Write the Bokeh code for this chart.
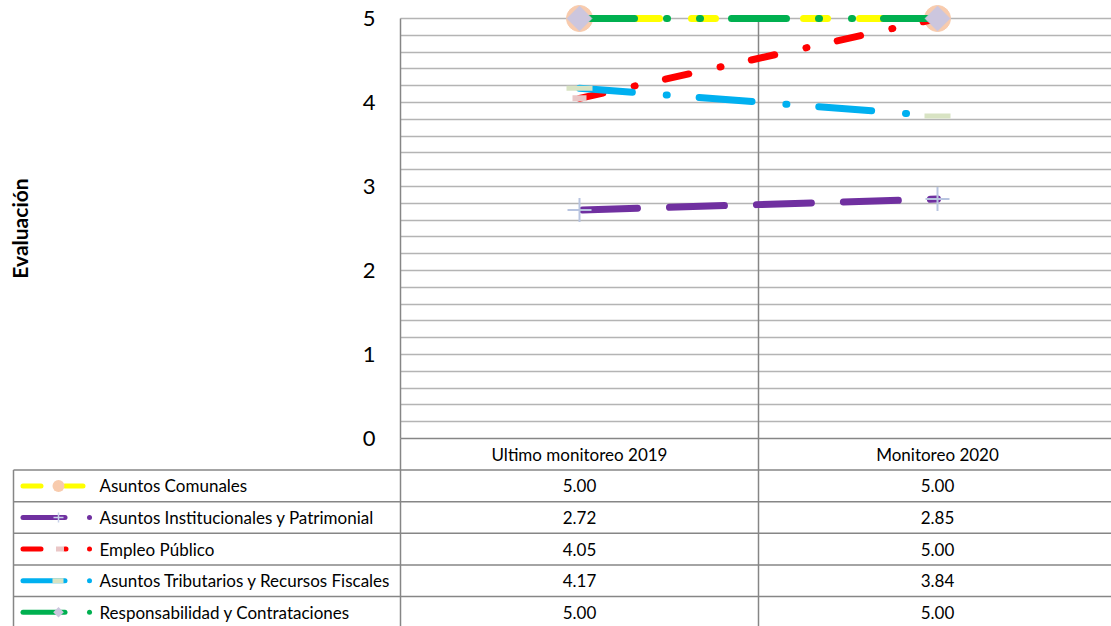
import numpy as np
from bokeh.plotting import figure
from bokeh.models import Range1d, FixedTicker, Grid
from bokeh.embed import file_html
from bokeh.resources import INLINE
from bokeh.core.properties import value

# ---------------- data ----------------
categories = ["Ultimo monitoreo 2019", "Monitoreo 2020"]
series_names = [
    "Asuntos Comunales",
    "Asuntos Institucionales y Patrimonial",
    "Empleo Público",
    "Asuntos Tributarios y Recursos Fiscales",
    "Responsabilidad y Contrataciones",
]
asuntos_comunales = [5.00, 5.00]
asuntos_institucionales = [2.72, 2.85]
empleo_publico = [4.05, 5.00]
asuntos_tributarios = [4.17, 3.84]
responsabilidad = [5.00, 5.00]
y_ticks = [0, 1, 2, 3, 4, 5]
y_title = "Evaluación"

series_values = [asuntos_comunales, asuntos_institucionales, empleo_publico,
                 asuntos_tributarios, responsabilidad]

# ---------------- styles / layout ----------------
line_colors = ["#FFFF00", "#7030A0", "#FF0000", "#00B0F0", "#00B050"]
line_dashes = ["24 32", "55 32", "24 32 1 31", "53 34 1 32", "55 32 1 32 1 31"]
dash_offsets = [0, -3, 0, 0, 0]
FONT = "Lato"
AXIS_COL = "#868686"
GRID_COL = "#B4B4B4"
TXT_SIZE = "17px"

W, H = 1111, 626
cat_px = 358.0      # width of one category column, px
plot_x0 = 400.0     # page x where the plot area starts
plot_y0 = 438.0     # page y of value 0 (top of the data table)
unit_px = 84.0      # px per unit of evaluation
row_px = 31.6       # data-table row height
n_cat = len(categories)
x_cat = [i + 0.5 for i in range(n_cat)]

p = figure(width=W, height=H,
           x_range=Range1d(-plot_x0 / cat_px, (W - plot_x0) / cat_px),
           y_range=Range1d(-(H - plot_y0) / unit_px, plot_y0 / unit_px),
           output_backend="svg", toolbar_location=None, x_axis_location=None,
           min_border_left=0, min_border_right=0, min_border_top=0, min_border_bottom=0)
p.extra_y_ranges = {"table": Range1d(start=(H - plot_y0) / row_px, end=-plot_y0 / row_px)}
p.outline_line_color = None
p.background_fill_color = "white"
p.border_fill_color = "white"
p.xgrid.visible = False

# ---------------- value axis ----------------
yax = p.yaxis[0]
yax.fixed_location = 0
yax.ticker = FixedTicker(ticks=y_ticks)
yax.bounds = (min(y_ticks), max(y_ticks))
yax.axis_line_color = AXIS_COL
yax.axis_line_width = 1.5
yax.major_tick_line_color = None
yax.minor_tick_line_color = None
yax.major_tick_out = 0
yax.major_tick_in = 0
yax.major_label_standoff = 25
yax.major_label_text_font = FONT
yax.major_label_text_font_size = "22px"
yax.major_label_text_color = "#000000"
yax.axis_label = y_title
yax.axis_label_text_font = FONT
yax.axis_label_text_font_style = "bold"
yax.axis_label_text_font_size = "21px"
yax.axis_label_text_color = "#000000"
yax.axis_label_standoff = 328

grid_ticks = [round(0.2 * k, 1) for k in range(1, 26)]
if "cross_bounds" in Grid.properties():
    p.ygrid.ticker = FixedTicker(ticks=grid_ticks)
    p.ygrid.cross_bounds = (0, n_cat)
    p.ygrid.grid_line_color = GRID_COL
    p.ygrid.grid_line_width = 1.3
else:
    p.ygrid.visible = False
    p.segment(x0=[0] * len(grid_ticks), y0=grid_ticks, x1=[n_cat] * len(grid_ticks),
              y1=grid_ticks, line_color=GRID_COL, line_width=1.3)

# category divider(s)
div_x = list(range(1, n_cat))
p.segment(x0=div_x, y0=[min(y_ticks)] * len(div_x), x1=div_x, y1=[max(y_ticks)] * len(div_x),
          line_color=AXIS_COL, line_width=1.5)

# ---------------- series ----------------
for i, vals in enumerate(series_values):
    p.line(x_cat, vals, line_color=line_colors[i], line_width=7,
           line_dash=line_dashes[i], line_dash_offset=dash_offsets[i], line_cap="round")
    if i == 0:
        p.scatter(x_cat, vals, marker="circle", size=26, fill_color="#F8CBAD",
                  line_color="#F8CBAD")
    elif i == 1:
        p.scatter(x_cat, vals, marker="cross", size=24, line_color="#B8C4E0",
                  line_width=2)
    elif i == 2:
        p.rect(x_cat, vals, width=14, height=6, width_units="screen",
               height_units="screen", fill_color="#EAC6C6", line_color=None)
    elif i == 3:
        p.rect(x_cat, vals, width=26, height=5, width_units="screen",
               height_units="screen", fill_color="#D8E3C3", line_color=None)
    else:
        p.scatter(x_cat, vals, marker="square", size=17.5, angle=np.pi / 4,
                  fill_color="#CCC6DE", line_color="#CCC6DE")

# ---------------- data table ----------------
TB = "table"


def px(v):
    # page x inside the legend column -> data x
    return (v - plot_x0) / cat_px


n_rows = len(series_names) + 1
col_left = px(13)
hx0 = [0.0] + [col_left] * n_rows
hx1 = [float(n_cat)] * (n_rows + 1)
hy = list(range(n_rows + 1))
p.segment(x0=hx0, y0=hy, x1=hx1, y1=hy, line_color=AXIS_COL, line_width=1.5,
          y_range_name=TB)
vx = [float(k) for k in range(n_cat + 1)] + [col_left]
vy0 = [0] * (n_cat + 1) + [1]
vy1 = [n_rows] * (n_cat + 2)
p.segment(x0=vx, y0=vy0, x1=vx, y1=vy1, line_color=AXIS_COL, line_width=1.5,
          y_range_name=TB)

p.text(x=x_cat, y=[0.5] * n_cat, text=categories, text_font=value(FONT),
       text_font_size=value(TXT_SIZE), text_align="center", text_baseline="middle",
       text_color="#000000", y_range_name=TB)

vx_list, vy_list, vt_list = [], [], []
for i, vals in enumerate(series_values):
    for j, v in enumerate(vals):
        vx_list.append(x_cat[j])
        vy_list.append(i + 1.5)
        vt_list.append(f"{v:.2f}")
p.text(x=vx_list, y=vy_list, text=vt_list, text_font=value(FONT),
       text_font_size=value(TXT_SIZE), text_align="center", text_baseline="middle",
       text_color="#000000", y_range_name=TB)

row_y = [i + 1.5 for i in range(len(series_names))]
p.text(x=[px(99)] * len(series_names), y=row_y, text=series_names,
       text_font=value(FONT), text_font_size=value(TXT_SIZE), text_align="left",
       text_baseline="middle", text_color="#000000", y_range_name=TB)

# legend keys
key_end = [82.5, 64.5, 65.5, 64.5, 64.5]
key_dash = ["18 24", "solid", "18 24", "solid", "solid"]
key_dot = [False, True, True, True, True]
for i in range(len(series_names)):
    yy = row_y[i]
    p.line([px(22.5), px(key_end[i])], [yy, yy], line_color=line_colors[i], line_width=5,
           line_dash=key_dash[i], line_cap="round", y_range_name=TB)
    if key_dot[i]:
        p.scatter([px(89)], [yy], marker="circle", size=5, fill_color=line_colors[i],
                  line_color=None, y_range_name=TB)
mk_x = [px(58)]
p.scatter(mk_x, [row_y[0]], marker="circle", size=12, fill_color="#F8CBAD",
          line_color=None, y_range_name=TB)
p.scatter(mk_x, [row_y[1]], marker="cross", size=10, line_color="#C8D2EA",
          line_width=1.5, y_range_name=TB)
p.rect([px(59.5)], [row_y[2]], width=8, height=5, width_units="screen",
       height_units="screen", fill_color="#EAC6C6", line_color=None, y_range_name=TB)
p.rect([px(57.5)], [row_y[3]], width=11, height=5, width_units="screen",
       height_units="screen", fill_color="#D8E3C3", line_color=None, y_range_name=TB)
p.scatter(mk_x, [row_y[4]], marker="square", size=7.5, angle=np.pi / 4,
          fill_color="#CCC6DE", line_color=None, y_range_name=TB)

open("out.html", "w").write(file_html(p, INLINE))
